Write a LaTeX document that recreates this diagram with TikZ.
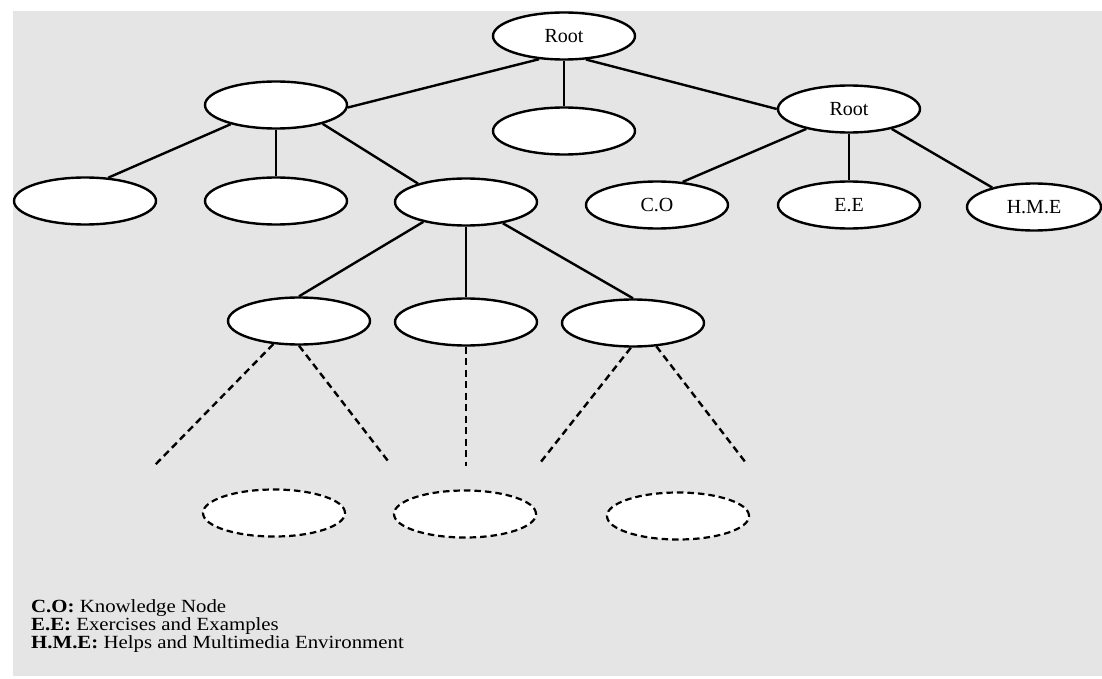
\documentclass[tikz,border=0pt]{standalone}
\usepackage{fontspec}
\setmainfont{Liberation Serif}
\newfontfamily\keyfont{Liberation Serif}[FakeStretch=1.12]
\usetikzlibrary{shapes.geometric}
\definecolor{paper}{RGB}{229,229,229}
\begin{document}
\begin{tikzpicture}[x=1pt,y=-1pt,
  tnode/.style={ellipse, draw, line width=2.4pt, fill=white,
    minimum width=142pt, minimum height=47pt, inner sep=0pt,
    font=\fontsize{20}{24}\selectfont},
  ghost/.style={tnode, dash pattern=on 6.5pt off 4pt, line width=2.2pt},
  edge/.style={line width=2.4pt},
  dedge/.style={line width=2.4pt, dash pattern=on 7pt off 4.5pt},
  legend/.style={anchor=base west, inner sep=0pt, align=left,
    font=\keyfont\fontsize{18.6}{16.7}\selectfont}]

% page and grey sheet
\useasboundingbox (0,0) rectangle (1102,679);
\fill[white] (0,0) rectangle (1102,679);
\fill[paper] (13,11) rectangle (1102,676);

% level 0 and 1
\node[tnode] (root) at (564,36) {Root};
\node[tnode] (l1a)  at (276,105) {};
\node[tnode] (l1b)  at (564,131) {};
\node[tnode] (l1c)  at (849,109) {Root};

% level 2
\node[tnode] (l2a) at (85,201)  {};
\node[tnode] (l2b) at (276,201) {};
\node[tnode] (l2c) at (466,202) {};
\node[tnode] (co)  at (657,205) {C.O};
\node[tnode] (ee)  at (849,205) {E.E};
\node[tnode, minimum width=134pt] (hme) at (1034,207) {H.M.E};

% level 3
\node[tnode] (ka) at (299,321) {};
\node[tnode] (kb) at (466,322) {};
\node[tnode] (kc) at (633,323) {};

% level 4, still to come
\node[ghost] (ga) at (274,513) {};
\node[ghost] (gb) at (465,514) {};
\node[ghost] (gc) at (678,516) {};

% free ends of the dashed branches
\coordinate (fa1) at (155,465);
\coordinate (fa2) at (388,461);
\coordinate (fb)  at (466,466);
\coordinate (fc1) at (540,463);
\coordinate (fc2) at (746,463);

% solid edges
\draw[edge] (root.223) -- (l1a.358);
\draw[edge] (root) -- (l1b);
\draw[edge] (root.313) -- (l1c.west);
\draw[edge] (l1a.203) -- (l2a.45);
\draw[edge] (l1a) -- (l2b);
\draw[edge] (l1a.338) -- (l2c.159);
\draw[edge] (l1c.205) -- (co.42);
\draw[edge] (l1c) -- (ee);
\draw[edge] (l1c.335) -- (hme.155);
\draw[edge] (l2c.205) -- (ka.north);
\draw[edge] (l2c) -- (kb);
\draw[edge] (l2c.330) -- (kc.north);

% dashed edges
\draw[dedge] (ka.222) -- (fa1);
\draw[dedge] (ka.south) -- (fa2);
\draw[dedge] (kb.south) -- (fb);
\draw[dedge] (kc.265) -- (fc1);
\draw[dedge] (kc.315) -- (fc2);

% key (base anchor sits on the last line)
\node[legend] (key) at (31,648) {\textbf{C.O:} Knowledge Node\\
  \textbf{E.E:} Exercises and Examples\\
  \textbf{H.M.E:} Helps and Multimedia Environment};
\end{tikzpicture}
\end{document}
